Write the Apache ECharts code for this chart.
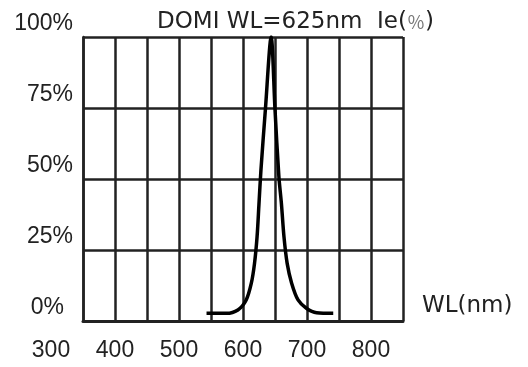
<!DOCTYPE html>
<html>
<head>
<meta charset="utf-8">
<script src="https://cdn.jsdelivr.net/npm/echarts@6/dist/echarts.min.js"></script>
<style>
  html, body { margin: 0; padding: 0; background: #fff; }
  #main { width: 528px; height: 367px; }
</style>
</head>
<body>
<div id="main"></div>
<script>
// spectrum: wavelength (nm) / relative intensity (%)
const wavelengths = [543, 574, 592, 605, 613, 618, 622, 625, 628, 635, 644, 650, 656, 660, 664, 669, 676, 686, 699, 715, 741];
const intensity   = [2.7, 2.7, 3.9, 7.4, 13.3, 20.3, 29.7, 41.4, 53, 74.5, 100, 74.5, 51, 41.4, 29.7, 20.3, 13.3, 7.4, 4.5, 2.9, 2.7];
const xLabelTicks = [300, 400, 500, 600, 700, 800];
const yTicks = [0, 25, 50, 75, 100];

const font = 'Liberation Sans, Arial, sans-serif';
const wideFont = 'DejaVu Sans, sans-serif';
const ink = '#222';
const chart = echarts.init(document.getElementById('main'));

chart.setOption({
  animation: false,
  backgroundColor: '#fff',
  title: {
    text: 'DOMI WL=625nm  Ie({p|％})',
    left: 157,
    top: 11,
    padding: 0,
    textStyle: {
      fontFamily: wideFont, fontSize: 23, fontWeight: 'normal', color: ink,
      rich: { p: { fontSize: 18, color: '#777', fontFamily: 'Noto Sans CJK SC' } }
    }
  },
  grid: [
    { left: 83, top: 37, width: 320, height: 284 },
    { left: 51, top: 37, width: 320, height: 284 }
  ],
  xAxis: [{
    type: 'value', gridIndex: 0,
    min: 350, max: 850, interval: 50,
    axisLine: { show: true, lineStyle: { color: ink, width: 3 } },
    axisTick: { show: false },
    axisLabel: { show: false },
    splitLine: { show: true, lineStyle: { color: ink, width: 2.5 } },
    name: 'WL(nm)', nameLocation: 'end', nameGap: 19,
    nameTextStyle: { fontFamily: wideFont, fontSize: 23, color: ink, verticalAlign: 'bottom', padding: [0, 0, 3, 0] }
  }, {
    type: 'value', gridIndex: 1,
    min: xLabelTicks[0], max: xLabelTicks[xLabelTicks.length - 1], interval: 100,
    axisLine: { show: false }, axisTick: { show: false }, splitLine: { show: false },
    axisLabel: { fontFamily: font, fontSize: 23, color: ink, margin: 18 }
  }],
  yAxis: [{
    type: 'value', gridIndex: 0,
    min: yTicks[0], max: yTicks[yTicks.length - 1], interval: 25,
    axisLine: { show: true, lineStyle: { color: ink, width: 2.5 } },
    axisTick: { show: false },
    splitLine: { show: true, lineStyle: { color: ink, width: 2.5 } },
    axisLabel: {
      fontFamily: font, fontSize: 23, color: ink, margin: 10,
      verticalAlign: 'bottom', padding: [0, 0, 2, 0],
      formatter: v => v === 0 ? '{z|0%}' : v + '%',
      rich: { z: { fontFamily: font, fontSize: 23, color: ink, padding: [0, 9, 0, 0] } }
    }
  }, {
    type: 'value', gridIndex: 1, min: 0, max: 100, show: false
  }],
  series: [{
    type: 'line',
    xAxisIndex: 0, yAxisIndex: 0,
    data: wavelengths.map((w, i) => [w, intensity[i]]),
    smooth: 0.3,
    showSymbol: false,
    lineStyle: { color: '#000', width: 3.5 }
  }]
});
</script>
</body>
</html>
